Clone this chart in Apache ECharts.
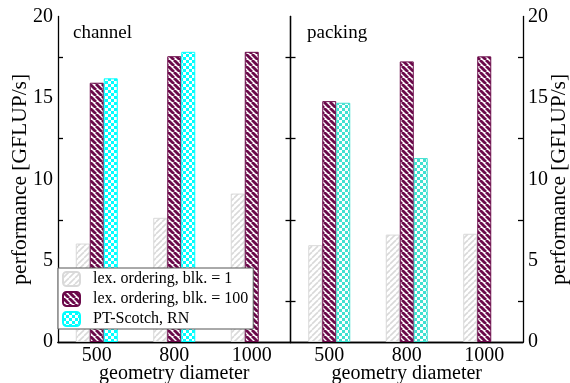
<!DOCTYPE html>
<html><head><meta charset="utf-8">
<script src="https://cdn.jsdelivr.net/npm/echarts@6/dist/echarts.min.js"></script>
<style>html,body{margin:0;padding:0;background:#fff}#c{width:570px;height:383px}</style>
</head><body><div id="c"></div>
<script>
var categories = ['500', '800', '1000'];
var seriesNames = ['lex. ordering, blk. = 1', 'lex. ordering, blk. = 100', 'PT-Scotch, RN'];
var channelBlk1 = [6.05, 7.63, 9.12];
var channelBlk100 = [15.93, 17.56, 17.83];
var channelScotch = [16.2, 17.83, null];
var packingBlk1 = [5.95, 6.6, 6.65];
var packingBlk100 = [14.8, 17.24, 17.55];
var packingScotch = [14.7, 11.3, null];
var panelTitles = ['channel', 'packing'];

var FONT = 'Liberation Serif';
var MAROON = '#6b0a4a', GRAY = '#d9d9d9', CYAN = '#00ffff', TURQ = '#40e0d0';

function stripes(color, p, lw, dir) {
  var c = document.createElement('canvas'); c.width = p; c.height = p;
  var g = c.getContext('2d'); g.fillStyle = '#fff'; g.fillRect(0, 0, p, p);
  g.strokeStyle = color; g.lineWidth = lw;
  for (var k = -1; k <= 1; k++) {
    g.beginPath();
    if (dir === '/') { g.moveTo(k * p, p); g.lineTo(k * p + p, 0); }
    else { g.moveTo(k * p, 0); g.lineTo(k * p + p, p); }
    g.stroke();
  }
  return { image: c, repeat: 'repeat' };
}
function checker(color, s) {
  var c = document.createElement('canvas'); c.width = 2 * s; c.height = 2 * s;
  var g = c.getContext('2d'); g.fillStyle = '#fff'; g.fillRect(0, 0, 2 * s, 2 * s);
  g.fillStyle = color; g.fillRect(0, 0, s, s); g.fillRect(s, s, s, s);
  return { image: c, repeat: 'repeat' };
}
var grayPat = stripes(GRAY, 6, 1.6, '/');
var maroonPat = stripes(MAROON, 6, 2.8, '\\');
var cyanPat = checker(CYAN, 3);
var turqPat = checker(TURQ, 3);

var grids = [
  { left: 58, top: 16.5, width: 232.5, height: 325.5, outerBoundsMode: 'none', containLabel: false },
  { left: 290.5, top: 16.5, width: 232.5, height: 325.5, outerBoundsMode: 'none', containLabel: false }
];
var lineStyle = { color: '#000', width: 1.3 };
var txt = { fontFamily: FONT, fontSize: 20, color: '#000' };
var nameTxt = { fontFamily: FONT, fontSize: 21.5, color: '#000' };
var xAxes = [], yAxes = [];
for (var i = 0; i < 2; i++) {
  xAxes.push({
    type: 'category', gridIndex: i, data: categories, position: 'bottom',
    axisLine: { lineStyle: lineStyle },
    axisTick: { inside: true, alignWithLabel: true, length: 8, lineStyle: lineStyle },
    axisLabel: Object.assign({ margin: 4 }, txt),
    name: 'geometry diameter', nameLocation: 'middle', nameGap: 22, nameMoveOverlap: false,
    nameTextStyle: txt
  });
  xAxes.push({
    type: 'category', gridIndex: i, data: categories, position: 'top',
    axisLine: { lineStyle: lineStyle },
    axisTick: { inside: true, alignWithLabel: true, length: 8, lineStyle: lineStyle },
    axisLabel: { show: false }
  });
  var yBase = {
    type: 'value', gridIndex: i, min: 0, max: 20, interval: 5,
    axisLine: { show: true, lineStyle: lineStyle },
    axisTick: { inside: true, length: 8, lineStyle: lineStyle },
    minorTick: { show: true, splitNumber: 2, length: 5, lineStyle: lineStyle },
    splitLine: { show: false }
  };
  var yl = Object.assign({}, yBase, { position: 'left',
    axisLabel: Object.assign({ show: i === 0, margin: 5 }, txt) });
  var yr = Object.assign({}, yBase, { position: 'right',
    axisLabel: Object.assign({ show: i === 1, margin: 5 }, txt) });
  if (i === 0) { yl.name = 'performance [GFLUP/s]'; yl.nameLocation = 'middle'; yl.nameGap = 27; yl.nameRotate = 90;
    yl.nameMoveOverlap = false; yl.nameTextStyle = nameTxt; }
  if (i === 1) { yr.name = 'performance [GFLUP/s]'; yr.nameLocation = 'middle'; yr.nameGap = 25; yr.nameRotate = 90;
    yr.nameMoveOverlap = false; yr.nameTextStyle = nameTxt; }
  yAxes.push(yl, yr);
}

function bar(name, data, gi, color, border) {
  return {
    type: 'bar', name: name, data: data, xAxisIndex: gi * 2, yAxisIndex: gi * 2,
    barWidth: 14, barGap: '0%',
    itemStyle: { color: color, borderColor: border, borderWidth: 1 },
    emphasis: { disabled: true }
  };
}
var series = [
  bar(seriesNames[0], channelBlk1, 0, grayPat, GRAY),
  bar(seriesNames[1], channelBlk100, 0, maroonPat, MAROON),
  bar(seriesNames[2], channelScotch, 0, cyanPat, CYAN),
  bar(seriesNames[0], packingBlk1, 1, grayPat, GRAY),
  bar(seriesNames[1], packingBlk100, 1, maroonPat, MAROON),
  bar(seriesNames[2], packingScotch, 1, turqPat, TURQ)
];

var chart = echarts.init(document.getElementById('c'), null, { renderer: 'canvas' });
chart.setOption({
  animation: false,
  backgroundColor: '#fff',
  title: [
    { text: panelTitles[0], left: 73, top: 24, textStyle: { fontFamily: FONT, fontSize: 19, fontWeight: 'normal', color: '#000' }, padding: 0 },
    { text: panelTitles[1], left: 307, top: 24, textStyle: { fontFamily: FONT, fontSize: 19, fontWeight: 'normal', color: '#000' }, padding: 0 }
  ],
  legend: {
    data: seriesNames, orient: 'vertical', left: 58, top: 268,
    itemWidth: 17, itemHeight: 14, itemGap: 4,
    backgroundColor: '#fff', borderColor: '#555', borderWidth: 1,
    padding: [3, 5, 2, 4], selectedMode: false,
    textStyle: { fontFamily: FONT, fontSize: 16, color: '#000', padding: [0, 0, 0, 8] }
  },
  grid: grids, xAxis: xAxes, yAxis: yAxes, series: series
});
</script></body></html>
